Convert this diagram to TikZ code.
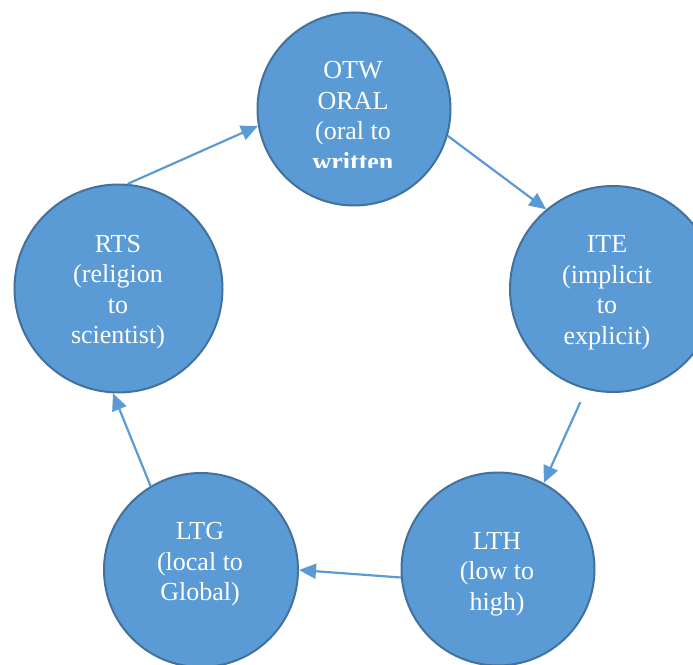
\documentclass[tikz,border=0pt]{standalone}
\usepackage{fontspec}
\setmainfont{Liberation Serif}
\usetikzlibrary{arrows.meta}
\definecolor{bubblefill}{HTML}{5B9BD5}
\definecolor{bubbleedge}{HTML}{41719C}
\begin{document}
\begin{tikzpicture}[x=1pt,y=1pt,
  bubble/.style={circle, fill=bubblefill, draw=bubbleedge, line width=2pt, inner sep=0pt},
  bubbletext/.style={text=white, align=center, inner sep=0pt, font=\fontsize{26}{30.5}\selectfont},
  flow/.style={draw=bubblefill, line width=2.2pt, -{Triangle[length=17pt,width=15pt]}}]
\useasboundingbox (0,0) rectangle (693,664);
\node[bubble, minimum size=193pt] (OTW) at (354,555) {};
\node[bubble, minimum size=206pt] (ITE) at (613,375) {};
\node[bubble, minimum size=193pt] (LTH) at (498,95) {};
\node[bubble, minimum size=194pt] (LTG) at (201,94) {};
\node[bubble, minimum size=208pt] (RTS) at (118.5,375.5) {};
\begin{scope}
  \clip (250,496) rectangle (460,664);
  \node[bubbletext] (OTWtext) at (353,548) {OTW\\ORAL\\(oral to\\\textbf{written}};
\end{scope}
\node[bubbletext] (ITEtext) at (607,371) {ITE\\(implicit\\to\\explicit)};
\node[bubbletext] (LTHtext) at (497,90) {LTH\\(low to\\high)};
\node[bubbletext] (LTGtext) at (200,99.5) {LTG\\(local to\\Global)};
\node[bubbletext] (RTStext) at (118,372) {RTS\\(religion\\to\\scientist)};
\draw[flow] (RTS.85) -- (OTW.190);
\draw[flow] (OTW.344) -- (ITE.130.5);
\draw[flow, shorten <=14pt] (ITE.255) -- (LTH.62);
\draw[flow] (LTH.185) -- (LTG.0);
\draw[flow] (LTG.121) -- (RTS.267);
\end{tikzpicture}
\end{document}
